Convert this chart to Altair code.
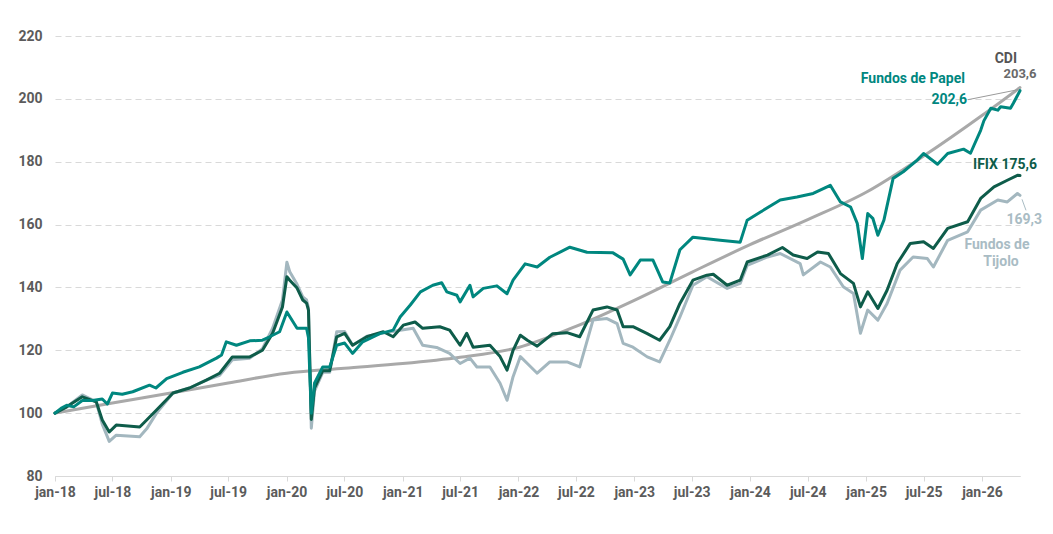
import altair as alt
import pandas as pd

# ---------------- data ----------------
cdi_dates = ["2018-01-01", "2018-07-01", "2019-01-01", "2019-07-01", "2020-01-01",
             "2020-07-01", "2021-01-01", "2021-07-01", "2022-01-01", "2022-07-01",
             "2023-01-01", "2023-07-01", "2024-01-01", "2024-07-01", "2025-01-01",
             "2025-07-01", "2026-01-01", "2026-05-01"]
cdi_values = [100, 103.2, 106.4, 109.6, 112.7, 114.3, 115.8, 117.8, 120.9, 127.6,
              135.9, 144.8, 153.6, 161.6, 170.3, 181.8, 194.7, 203.6]

papel_dates = ["2018-01-01", "2018-01-20", "2018-02-07", "2018-03-01", "2018-03-28",
               "2018-04-29", "2018-05-30", "2018-06-15", "2018-07-01", "2018-08-01",
               "2018-09-03", "2018-10-26", "2018-11-15", "2018-12-19", "2019-02-08",
               "2019-04-01", "2019-05-25", "2019-06-10", "2019-06-25", "2019-07-27",
               "2019-09-07", "2019-10-17", "2019-11-09", "2019-12-10", "2020-01-02",
               "2020-02-03", "2020-03-04", "2020-03-10", "2020-03-19", "2020-03-29",
               "2020-04-24", "2020-05-16", "2020-06-07", "2020-07-02", "2020-07-27",
               "2020-08-28", "2020-10-21", "2020-12-02", "2020-12-24", "2021-01-25",
               "2021-02-26", "2021-04-06", "2021-05-04", "2021-05-20", "2021-06-21",
               "2021-07-01", "2021-08-01", "2021-08-11", "2021-09-12", "2021-10-25",
               "2021-11-26", "2021-12-15", "2022-01-22", "2022-03-01", "2022-04-10",
               "2022-06-12", "2022-08-05", "2022-10-26", "2022-11-27", "2022-12-19",
               "2023-01-20", "2023-03-01", "2023-04-01", "2023-04-23", "2023-05-25",
               "2023-07-05", "2023-09-29", "2023-12-01", "2023-12-23", "2024-02-03",
               "2024-04-05", "2024-05-28", "2024-07-18", "2024-09-10", "2024-10-12",
               "2024-11-13", "2024-12-04", "2024-12-20", "2025-01-06", "2025-01-22",
               "2025-02-07", "2025-02-26", "2025-03-27", "2025-04-28", "2025-06-11",
               "2025-07-01", "2025-08-14", "2025-09-15", "2025-11-04", "2025-11-26",
               "2025-12-06", "2025-12-28", "2026-01-07", "2026-01-29", "2026-02-20",
               "2026-03-01", "2026-04-01", "2026-04-10", "2026-05-01"]
papel_values = [100, 101.5, 102.5, 102, 104,
                104, 104.5, 102.9, 106.4, 106,
                106.8, 108.9, 108, 111, 113,
                114.7, 117.5, 118.5, 122.7, 121.6,
                123, 123.2, 124.3, 125.9, 132.2,
                127, 127, 124, 100, 109.5,
                114.7, 114.7, 121.6, 122.3, 119,
                122.7, 125.3, 126.4, 130.6, 134.4,
                138.6, 140.7, 141.5, 138.6, 137.5,
                135.4, 140.7, 137, 139.7, 140.5,
                138, 142.3, 147.5, 146.5, 149.6,
                152.8, 151.2, 151, 149, 144,
                148.7, 148.7, 141.7, 141.4, 152,
                156, 155, 154.4, 161.4, 164,
                167.8, 168.8, 169.9, 172.5, 167.2,
                165.6, 160.4, 149.2, 163.5, 162,
                156.6, 161.4, 174.7, 176.8, 180.5,
                182.6, 179.2, 182.6, 184, 182.7,
                185, 190, 193, 197, 196.4,
                197.5, 197, 198.6, 202.6]

ifix_dates = ["2018-01-01", "2018-02-07", "2018-03-28", "2018-05-11", "2018-05-30",
              "2018-06-21", "2018-07-13", "2018-09-25", "2018-10-17", "2018-11-17",
              "2019-01-08", "2019-03-01", "2019-04-23", "2019-06-04", "2019-07-14",
              "2019-09-07", "2019-10-17", "2019-11-18", "2019-12-19", "2020-01-02",
              "2020-01-11", "2020-02-03", "2020-02-21", "2020-03-04", "2020-03-10",
              "2020-03-19", "2020-03-29", "2020-04-24", "2020-05-16", "2020-06-07",
              "2020-07-02", "2020-07-27", "2020-09-10", "2020-11-01", "2020-12-02",
              "2021-01-03", "2021-02-09", "2021-03-05", "2021-04-28", "2021-05-29",
              "2021-07-01", "2021-07-22", "2021-08-11", "2021-10-03", "2021-11-04",
              "2021-11-26", "2021-12-15", "2022-01-07", "2022-01-29", "2022-03-01",
              "2022-04-19", "2022-06-03", "2022-07-13", "2022-08-24", "2022-10-07",
              "2022-11-08", "2022-11-27", "2022-12-28", "2023-02-11", "2023-03-22",
              "2023-04-23", "2023-05-25", "2023-07-05", "2023-08-18", "2023-09-07",
              "2023-10-21", "2023-12-01", "2023-12-23", "2024-02-25", "2024-04-12",
              "2024-05-16", "2024-06-29", "2024-08-01", "2024-09-04", "2024-10-12",
              "2024-11-22", "2024-12-14", "2025-01-06", "2025-02-07", "2025-03-08",
              "2025-04-09", "2025-05-20", "2025-07-01", "2025-08-01", "2025-09-15",
              "2025-11-17", "2025-12-28", "2026-02-08", "2026-03-22", "2026-04-23",
              "2026-05-01"]
ifix_values = [100, 102, 105.2, 103.6, 97.8,
               94, 96.2, 95.6, 97.8, 101,
               106.4, 108, 110.5, 112.7, 117.9,
               117.9, 120, 125.4, 133.8, 143.4,
               142.3, 139.8, 136, 135, 132.8,
               98, 108, 113.5, 113.5, 124.3,
               125.4, 121.6, 124.3, 125.9, 124.3,
               128, 129, 127, 127.5, 126.4,
               121.6, 125.4, 121, 121.6, 118,
               113.7, 120, 124.8, 123.2, 121.3,
               125.3, 125.6, 124.3, 132.8, 133.8,
               132.8, 127.5, 127.5, 125.3, 123.2,
               127.5, 134.9, 142.3, 143.9, 144.2,
               140.7, 142.3, 148.1, 150.3, 152.7,
               150.3, 149.2, 151.3, 150.8, 144.4,
               141.3, 133.8, 138.6, 133.3, 139.1,
               147.6, 154, 154.5, 152.4, 158.8,
               160.9, 168.3, 172, 174.1, 175.7,
               175.6]

tijolo_dates = ["2018-01-01", "2018-02-07", "2018-03-28", "2018-05-11", "2018-05-30",
                "2018-06-21", "2018-07-13", "2018-09-25", "2018-10-17", "2018-11-17",
                "2019-01-08", "2019-03-01", "2019-04-23", "2019-06-04", "2019-07-14",
                "2019-09-07", "2019-10-17", "2019-11-18", "2019-12-19", "2020-01-02",
                "2020-01-11", "2020-02-03", "2020-02-21", "2020-03-04", "2020-03-10",
                "2020-03-19", "2020-03-29", "2020-04-24", "2020-05-16", "2020-06-07",
                "2020-07-02", "2020-07-27", "2020-09-10", "2020-10-21", "2020-12-24",
                "2021-02-03", "2021-03-05", "2021-04-18", "2021-05-29", "2021-07-01",
                "2021-08-01", "2021-08-23", "2021-10-03", "2021-11-04", "2021-11-26",
                "2021-12-15", "2022-01-07", "2022-01-29", "2022-03-01", "2022-04-10",
                "2022-06-03", "2022-07-13", "2022-08-24", "2022-10-07", "2022-11-08",
                "2022-11-27", "2022-12-28", "2023-02-11", "2023-03-22", "2023-04-23",
                "2023-05-25", "2023-07-05", "2023-08-18", "2023-10-21", "2023-12-01",
                "2023-12-23", "2024-02-25", "2024-04-05", "2024-06-07", "2024-06-17",
                "2024-08-10", "2024-09-10", "2024-10-21", "2024-11-22", "2024-12-14",
                "2025-01-06", "2025-02-07", "2025-03-08", "2025-04-18", "2025-05-29",
                "2025-07-13", "2025-08-01", "2025-09-15", "2025-11-17", "2025-12-28",
                "2026-02-20", "2026-03-22", "2026-04-23", "2026-05-01"]
tijolo_values = [100, 102, 105.8, 103.6, 96.5,
                 91, 93, 92.5, 95, 100,
                 106.4, 108, 110.5, 112, 117,
                 117.5, 120.5, 127, 136, 148,
                 145, 141, 137, 136, 133.5,
                 95.2, 107, 113, 113, 125.9,
                 126, 121.6, 124.5, 125.3, 126.4,
                 127, 121.6, 120.9, 119, 115.8,
                 117.5, 114.7, 114.7, 109.5, 104.1,
                 111.6, 118, 115.8, 112.7, 116.3,
                 116.3, 114.7, 129.6, 130.1, 128.5,
                 122.2, 121, 117.9, 116.3, 123.2,
                 130.6, 140.7, 143.4, 139.7, 141.3,
                 147, 149.7, 150.8, 147.6, 144,
                 148.1, 146.5, 140.2, 138.1, 125.4,
                 132.8, 129.6, 134.9, 145.5, 149.7,
                 149.2, 146.5, 155, 157.7, 164.6,
                 167.8, 167.2, 169.9, 169.3]

month_abbr = ["jan", "fev", "mar", "abr", "mai", "jun",
              "jul", "ago", "set", "out", "nov", "dez"]
tick_years = list(range(2018, 2027))
tick_months = [1, 7]
y_ticks = [80, 100, 120, 140, 160, 180, 200, 220]

# ---------------- styling ----------------
C_PAPEL = "#00877f"
C_IFIX = "#0e5c4a"
C_TIJOLO = "#a3b7bf"
C_TIJOLO_TXT = "#a9bcc4"
C_CDI = "#a9a9a9"
FONT = "Roboto"
AXIS_TXT = "#5b5b5b"


def frame(dates, values):
    return pd.DataFrame({"date": dates, "value": values})


def fmt(v):
    return f"{v:.1f}".replace(".", ",")


tick_values = [alt.DateTime(year=yy, month=mm, date=1, utc=True)
               for yy in tick_years for mm in tick_months
               if (yy, mm) <= (2026, 1)]
label_expr = ("[" + ",".join(f"'{m}'" for m in month_abbr) + "][utcmonth(datum.value)]"
              " + '-' + utcFormat(datum.value, '%y')")

x_enc = alt.X(
    "date:T",
    scale=alt.Scale(type="utc", nice=False,
                    domain=[alt.DateTime(year=2018, month=1, date=1, utc=True),
                            alt.DateTime(year=2026, month=5, date=1, utc=True)]),
    axis=alt.Axis(values=tick_values, labelExpr=label_expr, title=None, grid=False,
                  domainColor="#d9d9d9", tickColor="#d9d9d9", tickSize=5,
                  labelFont=FONT, labelFontWeight="bold", labelFontSize=14,
                  labelColor=AXIS_TXT, labelPadding=4, labelFlush=False),
)
y_enc = alt.Y(
    "value:Q",
    scale=alt.Scale(domain=[80, 220], nice=False, zero=False),
    axis=alt.Axis(values=y_ticks, title=None, domain=False, ticks=False,
                  grid=True, gridDash=[6, 4], gridColor="#d9d9d9", gridWidth=1,
                  labelFont=FONT, labelFontWeight="bold", labelFontSize=14,
                  labelColor=AXIS_TXT, labelPadding=13),
)


def line(dates, values, color, interp="linear", width=3):
    return alt.Chart(frame(dates, values)).mark_line(
        color=color, strokeWidth=width, interpolate=interp,
        strokeJoin="round", strokeCap="round"
    ).encode(x=x_enc, y=y_enc)


def end_text(dates, values, text, color, dx, dy, align="right", size=14, weight="bold"):
    df = pd.DataFrame({"date": [dates[-1]], "value": [values[-1]], "label": [text]})
    return alt.Chart(df).mark_text(
        color=color, font=FONT, fontSize=size, fontWeight=weight,
        align=align, baseline="middle", dx=dx, dy=dy
    ).encode(x=x_enc, y=y_enc, text="label:N")


def leader(dates, values, color, xo, yo, x2o, y2o):
    df = pd.DataFrame({"date": [dates[-1]], "value": [values[-1]]})
    return alt.Chart(df).mark_rule(
        color=color, strokeWidth=1, xOffset=xo, yOffset=yo, x2Offset=x2o, y2Offset=y2o
    ).encode(x=x_enc, y=y_enc, x2="date:T", y2="value:Q")


layers = [
    line(cdi_dates, cdi_values, C_CDI, interp="monotone", width=3),
    line(tijolo_dates, tijolo_values, C_TIJOLO),
    line(ifix_dates, ifix_values, C_IFIX),
    line(papel_dates, papel_values, C_PAPEL),
    # Papel labels
    end_text(papel_dates, papel_values, "Fundos de Papel", C_PAPEL, -55, -12),
    end_text(papel_dates, papel_values, fmt(papel_values[-1]), C_PAPEL, -53, 9),
    leader(papel_dates, papel_values, "#9a9a9a", -2, -1, -52, 9),
    # CDI labels
    end_text(cdi_dates, cdi_values, "CDI", "#555555", -3, -29),
    end_text(cdi_dates, cdi_values, fmt(cdi_values[-1]), "#6a6a6a", 0, -14,
             align="center", size=13),
    # IFIX label
    end_text(ifix_dates, ifix_values, "IFIX " + fmt(ifix_values[-1]), C_IFIX, 17, -11),
    # Tijolo labels
    end_text(tijolo_dates, tijolo_values, fmt(tijolo_values[-1]), C_TIJOLO_TXT, 22, 25),
    leader(tijolo_dates, tijolo_values, C_TIJOLO_TXT, 2, 4, 6, 15),
    end_text(tijolo_dates, tijolo_values, "Fundos de", C_TIJOLO_TXT, -23, 50, align="center"),
    end_text(tijolo_dates, tijolo_values, "Tijolo", C_TIJOLO_TXT, -19, 67, align="center"),
]

chart = alt.layer(*layers).properties(
    width=965,
    height=440,
    padding={"left": 47, "top": 28, "right": 25, "bottom": 40},
    autosize=alt.AutoSizeParams(type="none"),
    background="white",
).configure_view(stroke=None)

chart.save("out.html", embed_options={"renderer": "svg", "actions": False})
